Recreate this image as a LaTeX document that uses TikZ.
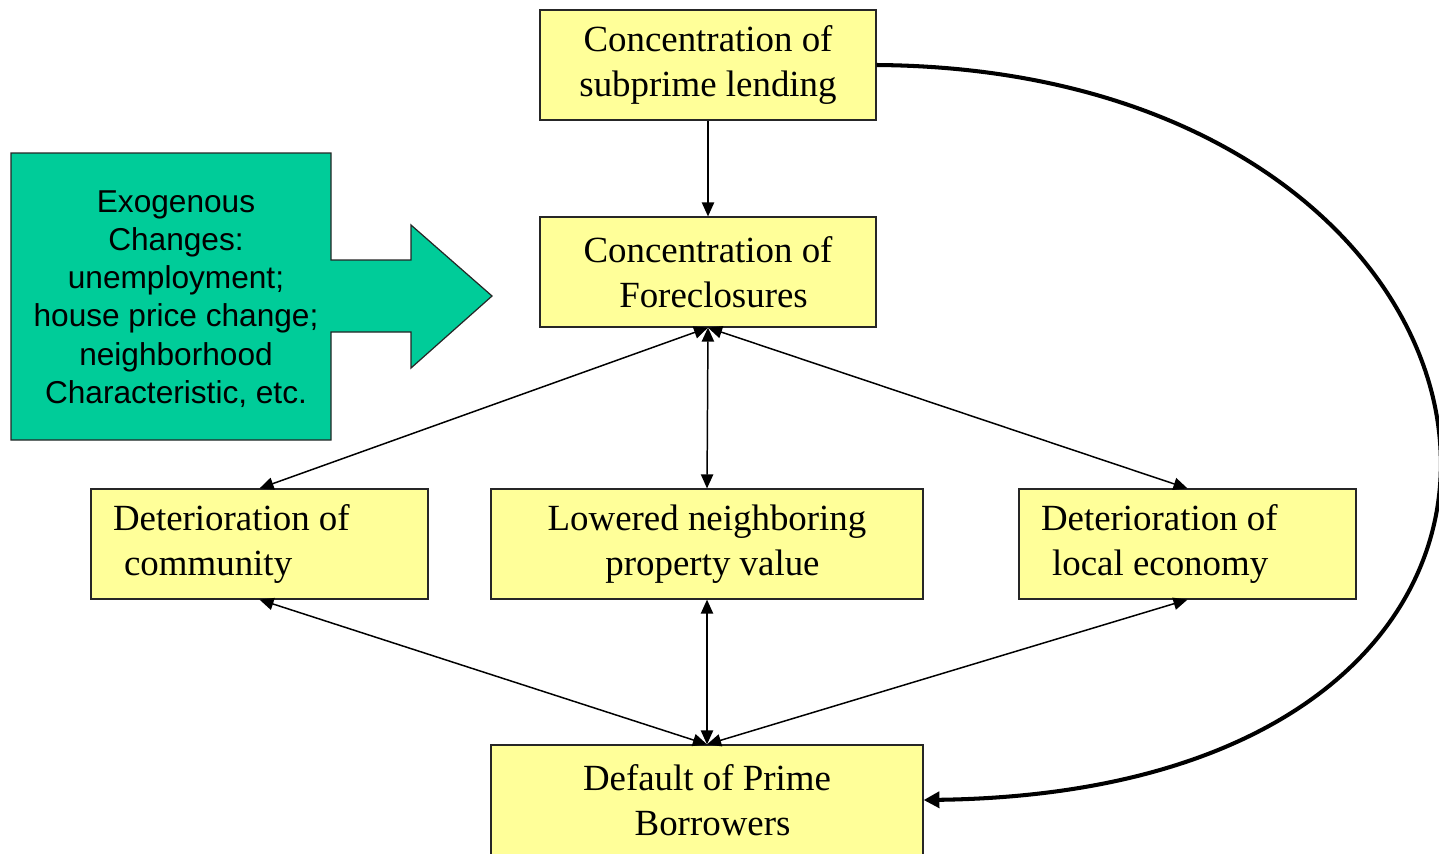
\documentclass[tikz,border=0pt]{standalone}
\usepackage{fontspec}
\setmainfont{Liberation Serif}
\setsansfont{Liberation Sans}
\usetikzlibrary{arrows.meta}
\definecolor{boxyellow}{HTML}{FFFF99}
\definecolor{exogreen}{HTML}{00CC99}
\tikzset{
  box/.style={draw=black!85, fill=boxyellow, line width=0.7pt, minimum height=2.2cm,
    align=center, font=\fontsize{21}{25.5}\selectfont},
  leftbox/.style={box, align=flush left, text width=5.86cm, inner xsep=0.44cm},
  link/.style={line width=0.85pt, >={Triangle[length=8pt,width=7pt]}},
  bigarc/.style={line width=2.3pt, ->, >={Triangle[length=9pt,width=9pt]}}
}
\begin{document}
\begin{tikzpicture}[x=0.02cm, y=-0.02cm]
\useasboundingbox (0,0) rectangle (1439,853);
% exogenous block arrow
\draw[fill=exogreen, draw=black!85, line width=0.7pt]
  (11,153) -- (331,153) -- (331,260) -- (411,260) -- (411,225) -- (492,296)
  -- (411,368) -- (411,332) -- (331,332) -- (331,440) -- (11,440) -- cycle;
\node (exo) at (176,299) [align=center, font=\sffamily\fontsize{18}{21.7}\selectfont]
  {Exogenous\\Changes:\\unemployment;\\house price change;\\neighborhood\\Characteristic, etc.};
% boxes
\node [box, minimum width=6.72cm] (lend) at (708,65) {Concentration of\\subprime lending};
\node [box, minimum width=6.72cm] (fore) at (708,272) {Concentration of\\\hspace*{0.3em}Foreclosures};
\node [leftbox] (comm) at (259.5,544) {Deterioration of\\\hspace*{0.3em}community};
\node [box, minimum width=8.64cm] (prop) at (707,544) {Lowered neighboring\\\hspace*{0.3em}property value};
\node [leftbox] (econ) at (1187.5,544) {Deterioration of\\\hspace*{0.3em}local economy};
\node [box, minimum width=8.64cm] (dflt) at (707,800) {Default of Prime\\\hspace*{0.3em}Borrowers};
% connectors
\path [link, ->] (lend) edge (fore);
\path [link, <->]
  (fore.south) edge (comm.north)
               edge (prop.north)
               edge (econ.north)
  (dflt.north) edge (comm.south)
               edge (prop.south)
               edge (econ.south);
\draw [bigarc] (lend.east) .. controls (1560,70) and (1672,790) .. (dflt.east);
\end{tikzpicture}
\end{document}
